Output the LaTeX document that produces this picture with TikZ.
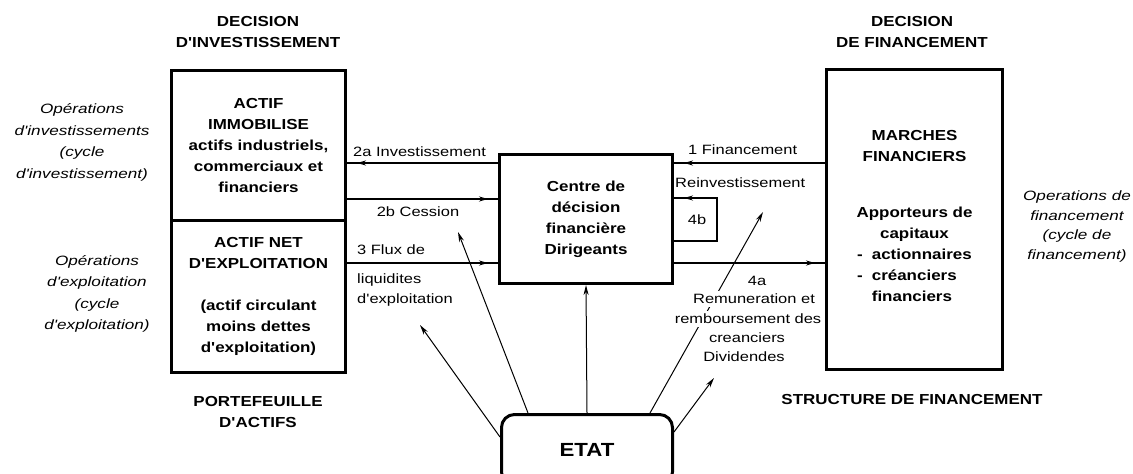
\documentclass[tikz,border=0pt]{standalone}
\usepackage{fontspec}
\usetikzlibrary{arrows.meta,decorations.markings}
\newfontfamily\boldf{Liberation Sans}[FakeStretch=1.17]
\newfontfamily\labf{Liberation Sans}[FakeStretch=1.22]
\newfontfamily\itf{Liberation Sans}[FakeStretch=1.27]
\tikzset{
  box/.style={draw, line width=3pt, inner sep=0pt, align=center,
    font=\boldf\bfseries\fontsize{14.5}{21}\selectfont},
  head/.style={align=center, inner sep=0pt, font=\boldf\bfseries\fontsize{14.5}{21}\selectfont},
  lab/.style={inner sep=1pt, font=\labf\fontsize{13.5}{20}\selectfont},
  ital/.style={align=center, inner sep=0pt, font=\itf\itshape\fontsize{13.5}{21.5}\selectfont},
  flow/.style={line width=1.6pt, postaction={decorate},
    decoration={markings, mark=at position -10pt with {\arrow{Stealth[length=9pt,width=5pt]}}}},
  ray/.style={line width=1pt, -{Stealth[length=10pt,width=5pt]}},
}
\begin{document}
\begin{tikzpicture}[x=1pt,y=-1pt]
\useasboundingbox (0,0) rectangle (1133,474);
\clip (0,0) rectangle (1133,474);

% boxes
\node[box, minimum width=174pt, minimum height=149.5pt] (immo) at (258.5,145.25)
  {ACTIF\\IMMOBILISE\\actifs industriels,\\commerciaux et\\financiers};
\node[box, minimum width=174pt, minimum height=152.5pt] (ane) at (258.5,296.25)
  {ACTIF NET\\D'EXPLOITATION\\[21pt](actif circulant\\moins dettes\\d'exploitation)};
\node[box, minimum width=173pt, minimum height=129pt] (ctr) at (586,219)
  {Centre de\\décision\\financière\\Dirigeants};
\node[box, minimum width=176pt, minimum height=300pt] (mf) at (914.5,219.5)
  {MARCHES\\FINANCIERS\\[35pt]Apporteurs de\\capitaux\\
   \begin{tabular}[t]{@{}l@{}}-\hspace{9pt}actionnaires\\-\hspace{9pt}créanciers\\\phantom{-\hspace{9pt}}financiers\end{tabular}};
\node[box, rounded corners=13pt, minimum width=171pt, minimum height=70.5pt,
  font=\boldf\bfseries\fontsize{19}{22}\selectfont] (etat) at (587,449.75) {ETAT};

% headings
\node[head] (h1) at (258,32.5) {DECISION\\D'INVESTISSEMENT};
\node[head] (h2) at (912,32.5) {DECISION\\DE FINANCEMENT};
\node[head] (h3) at (258,412) {PORTEFEUILLE\\D'ACTIFS};
\node[head] (h4) at (912,400) {STRUCTURE DE FINANCEMENT};

% side notes
\node[ital] (n1) at (82,142.5) {Opérations\\d'investissements\\(cycle\\d'investissement)};
\node[ital] (n2) at (97,294) {Opérations\\d'exploitation\\(cycle\\d'exploitation)};
\node[ital, font=\itf\itshape\fontsize{13.5}{19.7}\selectfont] (n3) at (1077,226.5)
  {Operations de\\financement\\(cycle de\\financement)};

% helper coordinates
\coordinate (ya) at (0,163);
\coordinate (yb) at (0,199);
\coordinate (yc) at (0,263);
\coordinate (yl) at (0,241);
\coordinate (yu) at (0,198);
\coordinate (lp) at (717,220);
\coordinate (y1) at (0,437);
\coordinate (y5) at (0,432);
\coordinate (x2) at (528,0);
\coordinate (x4) at (650,0);
\coordinate (a1) at (420,325);
\coordinate (a2) at (458,232);
\coordinate (a4) at (763,212);
\coordinate (a5) at (714,378);

% flows
\draw[flow] (ctr.west |- ya) -- (immo.east |- ya);
\draw[flow] (immo.east |- yb) -- (ctr.west |- yb);
\draw[flow] (ane.east |- yc) -- (ctr.west |- yc);
\draw[flow] (mf.west |- ya) -- (ctr.east |- ya);
\draw[flow] (ctr.east |- yc) -- (mf.west |- yc);
\draw[flow, line width=1.3pt] (ctr.east |- yl) -| (lp) |- (ctr.east |- yu);

% rays from ETAT
\draw[ray] (etat.west |- y1) -- (a1);
\draw[ray] (etat.north -| x2) -- (a2);
\draw[ray] (etat.north) -- (ctr.south);
\draw[ray] (etat.north -| x4) -- (a4);
\draw[ray] (etat.east |- y5) -- (a5);

% labels
\node[lab, anchor=west] (l2a) at (352,152) {2a Investissement};
\node[lab] (l2b) at (418,212) {2b Cession};
\node[lab, anchor=west] (l3) at (356,250) {3 Flux de};
\node[lab, anchor=west] (l3b) at (356,280) {liquidites};
\node[lab, anchor=west] (l3c) at (356,300) {d'exploitation};
\node[lab, anchor=west] (l1) at (687,150) {1 Financement};
\node[lab, anchor=west] (lr) at (674,183) {Reinvestissement};
\node[lab] (l4b) at (697,220) {4b};
\node[lab] (l4a) at (757,281) {4a};
\node[lab, fill=white, inner ysep=3pt] (l4c) at (754,299) {Remuneration et};
\node[lab, fill=white, inner ysep=3pt] (l4d) at (748,319) {remboursement des};
\node[lab] (l4e) at (747,338) {creanciers};
\node[lab] (l4f) at (744,357) {Dividendes};
\end{tikzpicture}
\end{document}
